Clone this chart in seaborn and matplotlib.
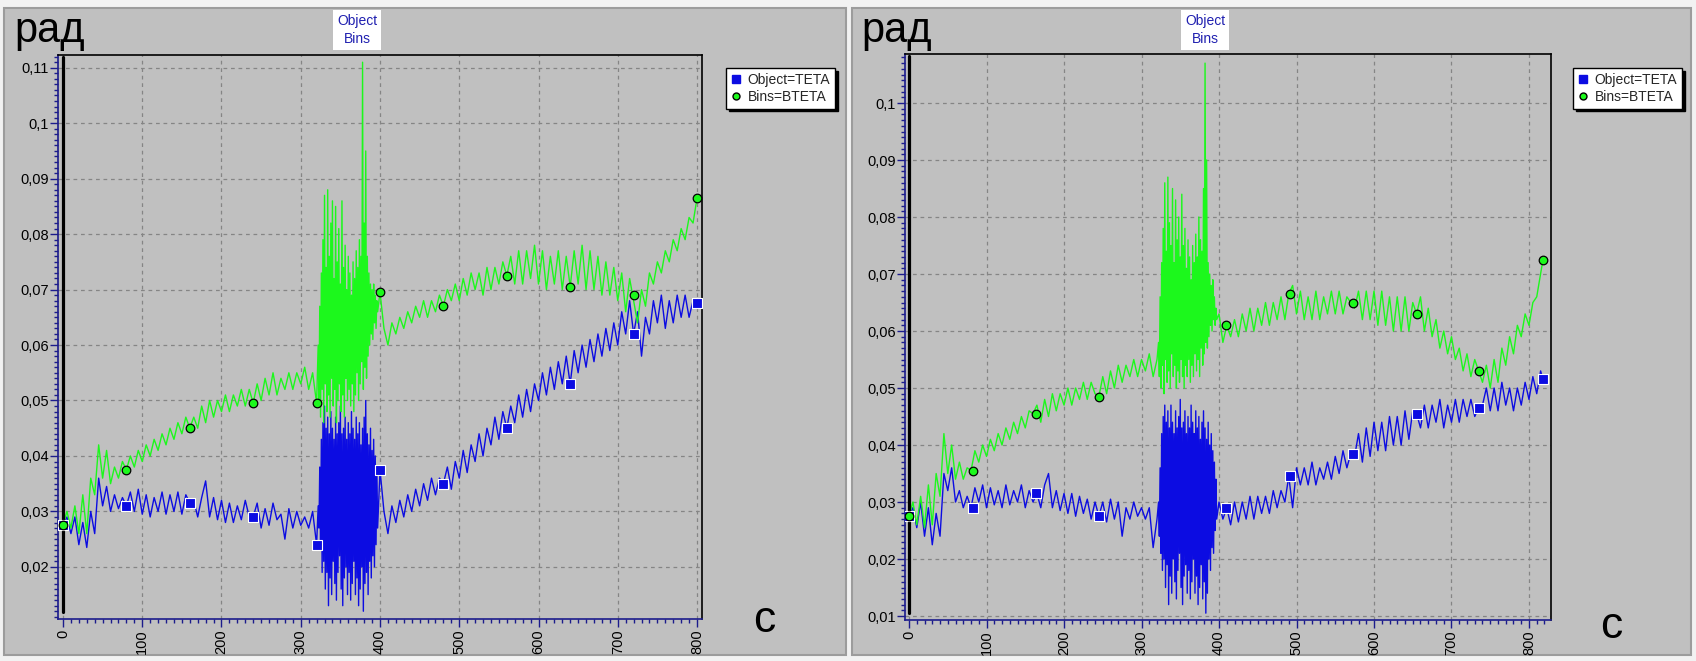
import numpy as np
import pandas as pd
import matplotlib
matplotlib.use("Agg")
import matplotlib.pyplot as plt
import seaborn as sns
from matplotlib.patches import Rectangle
from matplotlib.lines import Line2D
from matplotlib.ticker import MultipleLocator, FuncFormatter

# ---------------- data ----------------
series_names = ["Object=TETA", "Bins=BTETA"]
title_text = "Object\nBins"
y_unit = "рад"
x_unit = "с"
x_ticks = [0, 100, 200, 300, 400, 500, 600, 700, 800]
y_ticks_left = [0.02, 0.03, 0.04, 0.05, 0.06, 0.07, 0.08, 0.09, 0.10, 0.11]
y_ticks_right = [0.01, 0.02, 0.03, 0.04, 0.05, 0.06, 0.07, 0.08, 0.09, 0.10]

t_main = np.arange(0, 325, 5)          # 0..320
t_burst = np.arange(322, 398)          # 322..397
t_tail_left = np.arange(400, 805, 5)   # 400..800
t_tail_right = np.append(np.arange(400, 816, 5), 818)

# ---- left chart ----
obj_main_left = [
    0.0275, 0.029, 0.026, 0.029, 0.024, 0.028, 0.0235, 0.030, 0.026, 0.036,
    0.031, 0.0345, 0.030, 0.033, 0.0305, 0.0325, 0.031, 0.0335, 0.030, 0.034,
    0.0295, 0.033, 0.029, 0.0325, 0.030, 0.0335, 0.0295, 0.033, 0.030, 0.0335,
    0.0295, 0.033, 0.0315, 0.032, 0.029, 0.0325, 0.0355, 0.029, 0.0325, 0.0285,
    0.032, 0.028, 0.0315, 0.028, 0.031, 0.0285, 0.032, 0.029, 0.029, 0.0315,
    0.027, 0.0305, 0.0275, 0.0315, 0.0285, 0.0295, 0.025, 0.0305, 0.027, 0.030,
    0.0275, 0.029, 0.027, 0.030, 0.024]
obj_burst_left = [
    0.031, 0.027, 0.038, 0.023, 0.043, 0.019, 0.046, 0.021, 0.049, 0.016,
    0.045, 0.019, 0.047, 0.013, 0.044, 0.018, 0.048, 0.015, 0.045, 0.021,
    0.043, 0.017, 0.047, 0.014, 0.044, 0.019, 0.046, 0.022, 0.049, 0.016,
    0.044, 0.013, 0.045, 0.018, 0.047, 0.020, 0.043, 0.015, 0.046, 0.019,
    0.044, 0.014, 0.048, 0.017, 0.045, 0.021, 0.043, 0.015, 0.047, 0.018,
    0.044, 0.013, 0.046, 0.016, 0.042, 0.020, 0.045, 0.012, 0.047, 0.017,
    0.050, 0.019, 0.044, 0.015, 0.042, 0.021, 0.045, 0.018, 0.041, 0.022,
    0.043, 0.020, 0.040, 0.024, 0.038, 0.027]
obj_tail_left = [
    0.0375, 0.030, 0.026, 0.031, 0.028, 0.032, 0.029, 0.033, 0.030, 0.034,
    0.031, 0.035, 0.032, 0.036, 0.033, 0.036, 0.035, 0.038, 0.034, 0.039,
    0.036, 0.041, 0.037, 0.042, 0.039, 0.044, 0.040, 0.045, 0.042, 0.047,
    0.043, 0.048, 0.045, 0.049, 0.046, 0.051, 0.047, 0.052, 0.048, 0.053,
    0.050, 0.055, 0.051, 0.056, 0.052, 0.057, 0.053, 0.058, 0.053, 0.059,
    0.055, 0.060, 0.056, 0.061, 0.057, 0.062, 0.058, 0.063, 0.059, 0.064,
    0.060, 0.066, 0.062, 0.068, 0.062, 0.066, 0.058, 0.065, 0.062, 0.068,
    0.064, 0.069, 0.063, 0.068, 0.064, 0.069, 0.065, 0.069, 0.065, 0.068,
    0.0675]
bins_main_left = [
    0.0275, 0.030, 0.027, 0.031, 0.026, 0.033, 0.026, 0.036, 0.033, 0.042,
    0.036, 0.041, 0.035, 0.038, 0.036, 0.039, 0.0375, 0.040, 0.038, 0.041,
    0.039, 0.042, 0.040, 0.043, 0.041, 0.044, 0.042, 0.045, 0.043, 0.046,
    0.044, 0.047, 0.045, 0.047, 0.045, 0.049, 0.046, 0.050, 0.047, 0.050,
    0.048, 0.051, 0.048, 0.051, 0.049, 0.052, 0.049, 0.052, 0.0495, 0.053,
    0.050, 0.054, 0.051, 0.055, 0.051, 0.054, 0.052, 0.055, 0.052, 0.055,
    0.053, 0.056, 0.052, 0.055, 0.0495]
bins_burst_left = [
    0.060, 0.050, 0.067, 0.047, 0.073, 0.052, 0.079, 0.046, 0.087, 0.053,
    0.074, 0.048, 0.088, 0.051, 0.076, 0.047, 0.082, 0.054, 0.086, 0.049,
    0.072, 0.052, 0.085, 0.046, 0.075, 0.050, 0.081, 0.053, 0.071, 0.048,
    0.086, 0.051, 0.074, 0.047, 0.078, 0.054, 0.070, 0.050, 0.076, 0.052,
    0.073, 0.049, 0.069, 0.053, 0.075, 0.048, 0.072, 0.051, 0.077, 0.055,
    0.074, 0.050, 0.079, 0.053, 0.076, 0.057, 0.111, 0.052, 0.082, 0.056,
    0.095, 0.054, 0.076, 0.058, 0.073, 0.060, 0.071, 0.062, 0.070, 0.061,
    0.071, 0.064, 0.069, 0.063, 0.068, 0.066]
bins_tail_left = [
    0.0695, 0.063, 0.060, 0.064, 0.062, 0.065, 0.063, 0.066, 0.064, 0.067,
    0.065, 0.068, 0.065, 0.068, 0.066, 0.069, 0.067, 0.070, 0.068, 0.071,
    0.068, 0.072, 0.069, 0.073, 0.070, 0.073, 0.069, 0.074, 0.070, 0.074,
    0.071, 0.075, 0.0725, 0.076, 0.071, 0.077, 0.071, 0.077, 0.072, 0.078,
    0.071, 0.077, 0.070, 0.076, 0.071, 0.077, 0.070, 0.076, 0.0705, 0.077,
    0.071, 0.078, 0.070, 0.077, 0.070, 0.076, 0.069, 0.075, 0.069, 0.074,
    0.068, 0.073, 0.066, 0.072, 0.068, 0.064, 0.070, 0.067, 0.073, 0.071,
    0.075, 0.073, 0.077, 0.075, 0.079, 0.077, 0.081, 0.079, 0.083, 0.082,
    0.0865]
mark_t_left = [0, 80, 160, 240, 320, 400, 480, 560, 640, 720, 800]
obj_marks_left = [0.0275, 0.031, 0.0315, 0.029, 0.024, 0.0375, 0.035, 0.045, 0.053, 0.062, 0.0675]
bins_marks_left = [0.0275, 0.0375, 0.045, 0.0495, 0.0495, 0.0695, 0.067, 0.0725, 0.0705, 0.069, 0.0865]

# ---- right chart ----
obj_main_right = [
    0.0275, 0.029, 0.0255, 0.030, 0.024, 0.029, 0.0225, 0.028, 0.024, 0.035,
    0.032, 0.036, 0.030, 0.032, 0.029, 0.031, 0.029, 0.0325, 0.030, 0.033,
    0.029, 0.0325, 0.0295, 0.032, 0.029, 0.033, 0.0295, 0.032, 0.030, 0.033,
    0.029, 0.032, 0.030, 0.0315, 0.029, 0.033, 0.035, 0.029, 0.032, 0.0285,
    0.0315, 0.028, 0.0315, 0.0275, 0.031, 0.028, 0.0305, 0.027, 0.030, 0.0275,
    0.030, 0.0265, 0.0305, 0.027, 0.030, 0.024, 0.029, 0.027, 0.030, 0.0275,
    0.029, 0.027, 0.029, 0.022, 0.027]
obj_burst_right = [
    0.030, 0.024, 0.036, 0.021, 0.042, 0.018, 0.045, 0.020, 0.047, 0.015,
    0.044, 0.019, 0.046, 0.012, 0.043, 0.017, 0.047, 0.014, 0.044, 0.020,
    0.042, 0.016, 0.046, 0.013, 0.043, 0.018, 0.045, 0.021, 0.048, 0.015,
    0.043, 0.012, 0.044, 0.017, 0.046, 0.019, 0.042, 0.014, 0.045, 0.018,
    0.043, 0.013, 0.047, 0.016, 0.044, 0.020, 0.042, 0.014, 0.046, 0.017,
    0.043, 0.012, 0.045, 0.015, 0.041, 0.019, 0.044, 0.013, 0.046, 0.016,
    0.043, 0.0105, 0.041, 0.014, 0.044, 0.020, 0.040, 0.018, 0.042, 0.022,
    0.039, 0.021, 0.037, 0.025, 0.034, 0.027]
obj_tail_right = [
    0.030, 0.027, 0.029, 0.026, 0.030, 0.0265, 0.030, 0.027, 0.031, 0.027,
    0.031, 0.028, 0.031, 0.028, 0.032, 0.029, 0.032, 0.030, 0.0345, 0.029,
    0.036, 0.033, 0.036, 0.033, 0.037, 0.033, 0.036, 0.034, 0.037, 0.034,
    0.038, 0.035, 0.039, 0.036, 0.0385, 0.038, 0.042, 0.037, 0.043, 0.038,
    0.044, 0.039, 0.044, 0.039, 0.045, 0.040, 0.045, 0.040, 0.046, 0.041,
    0.046, 0.0455, 0.043, 0.047, 0.043, 0.047, 0.044, 0.048, 0.043, 0.047,
    0.044, 0.048, 0.044, 0.048, 0.045, 0.048, 0.045, 0.0465, 0.047, 0.050,
    0.046, 0.050, 0.046, 0.051, 0.047, 0.050, 0.046, 0.050, 0.047, 0.051,
    0.048, 0.052, 0.049, 0.053, 0.0515]
bins_main_right = [
    0.0275, 0.030, 0.026, 0.031, 0.0255, 0.033, 0.026, 0.035, 0.031, 0.042,
    0.035, 0.040, 0.034, 0.037, 0.034, 0.036, 0.0355, 0.039, 0.037, 0.040,
    0.038, 0.041, 0.039, 0.042, 0.040, 0.043, 0.041, 0.044, 0.042, 0.045,
    0.043, 0.046, 0.0455, 0.047, 0.044, 0.048, 0.045, 0.049, 0.046, 0.049,
    0.047, 0.050, 0.047, 0.050, 0.048, 0.051, 0.048, 0.051, 0.049, 0.0485,
    0.052, 0.049, 0.053, 0.050, 0.054, 0.051, 0.054, 0.052, 0.055, 0.052,
    0.055, 0.053, 0.056, 0.052, 0.055]
bins_burst_right = [
    0.058, 0.052, 0.066, 0.050, 0.072, 0.054, 0.078, 0.049, 0.086, 0.055,
    0.074, 0.051, 0.087, 0.053, 0.079, 0.050, 0.075, 0.056, 0.085, 0.052,
    0.072, 0.054, 0.083, 0.050, 0.076, 0.053, 0.080, 0.051, 0.073, 0.055,
    0.084, 0.052, 0.075, 0.050, 0.078, 0.054, 0.071, 0.052, 0.076, 0.055,
    0.073, 0.051, 0.069, 0.054, 0.075, 0.052, 0.072, 0.056, 0.077, 0.053,
    0.073, 0.055, 0.080, 0.052, 0.076, 0.057, 0.074, 0.054, 0.085, 0.056,
    0.107, 0.058, 0.090, 0.057, 0.072, 0.059, 0.070, 0.061, 0.068, 0.060,
    0.069, 0.062, 0.066, 0.061, 0.064, 0.062]
bins_tail_right = [
    0.063, 0.058, 0.061, 0.059, 0.062, 0.059, 0.063, 0.060, 0.064, 0.060,
    0.064, 0.061, 0.065, 0.061, 0.065, 0.062, 0.066, 0.062, 0.0665, 0.068,
    0.063, 0.067, 0.062, 0.066, 0.062, 0.067, 0.062, 0.066, 0.063, 0.067,
    0.063, 0.067, 0.063, 0.066, 0.065, 0.064, 0.067, 0.062, 0.067, 0.062,
    0.067, 0.061, 0.067, 0.061, 0.066, 0.060, 0.066, 0.060, 0.066, 0.060,
    0.065, 0.063, 0.066, 0.060, 0.064, 0.059, 0.062, 0.057, 0.060, 0.056,
    0.059, 0.055, 0.057, 0.053, 0.056, 0.052, 0.055, 0.053, 0.051, 0.054,
    0.050, 0.055, 0.051, 0.057, 0.054, 0.059, 0.056, 0.061, 0.059, 0.063,
    0.061, 0.065, 0.066, 0.070, 0.0725]
mark_t_right = [0, 82, 164, 245, 409, 491, 573, 655, 736, 818]
obj_marks_right = [0.0275, 0.029, 0.0315, 0.0275, 0.029, 0.0345, 0.0385, 0.0455, 0.0465, 0.0515]
bins_marks_right = [0.0275, 0.0355, 0.0455, 0.0485, 0.061, 0.0665, 0.065, 0.063, 0.053, 0.0725]

# ---------------- styling ----------------
sns.set_style("white")
plt.rcParams['font.family'] = ['Liberation Sans', 'DejaVu Sans']

BLUE = '#0c0ce2'
GREEN = '#1cf81c'
NAVY = '#1c1c8c'
PANEL = '#c0c0c0'

W, H = 1696, 661
fig = plt.figure(figsize=(W / 100, H / 100), dpi=100, facecolor='#f2f2f2')


def fx(px):
    return px / W


def fy(py):
    return 1 - py / H


for (x0, x1) in [(4, 846), (852, 1691)]:
    r = Rectangle((fx(x0), fy(655)), (x1 - x0) / W, (655 - 8) / H,
                  transform=fig.transFigure, facecolor=PANEL,
                  edgecolor='#9c9c9c', lw=1.5, zorder=-10)
    fig.add_artist(r)

panels = [
    dict(rect=(58, 55, 702, 619), xlim=(-6.3, 806.3), ylim=(0.0106, 0.1123),
         yticks=y_ticks_left, t_tail=t_tail_left,
         obj=(obj_main_left, obj_burst_left, obj_tail_left),
         bins=(bins_main_left, bins_burst_left, bins_tail_left),
         mt=mark_t_left, om=obj_marks_left, bm=bins_marks_left,
         title=(357, 30), legend=(726, 68), ylab=(14, 42), xlab=(764, 620)),
    dict(rect=(905, 54, 1551, 620), xlim=(-5.2, 828.4), ylim=(0.0093, 0.1086),
         yticks=y_ticks_right, t_tail=t_tail_right,
         obj=(obj_main_right, obj_burst_right, obj_tail_right),
         bins=(bins_main_right, bins_burst_right, bins_tail_right),
         mt=mark_t_right, om=obj_marks_right, bm=bins_marks_right,
         title=(1205, 30), legend=(1573, 68), ylab=(861, 42), xlab=(1611, 627)),
]

fmt = FuncFormatter(lambda v, p: (f"{v:.2f}".rstrip('0').rstrip('.')).replace('.', ','))

for p in panels:
    x0, y0, x1, y1 = p['rect']
    ax = fig.add_axes([fx(x0), fy(y1), (x1 - x0) / W, (y1 - y0) / H])
    ax.set_facecolor(PANEL)

    t_all = np.concatenate([t_main, t_burst, p['t_tail']])
    frames = []
    for name, parts in zip(series_names, (p['obj'], p['bins'])):
        v = np.concatenate([np.asarray(parts[0]), np.asarray(parts[1]), np.asarray(parts[2])])
        frames.append(pd.DataFrame({'t': t_all, 'v': v, 'series': name}))
    df = pd.concat(frames, ignore_index=True)

    sns.lineplot(data=df, x='t', y='v', hue='series', hue_order=series_names,
                 palette={series_names[0]: BLUE, series_names[1]: GREEN},
                 estimator=None, sort=False, lw=1.0, legend=False, ax=ax, zorder=2)

    # zero reference line
    ax.axvline(0, ymin=0.012, ymax=0.996, color='black', lw=2.3, zorder=2.5)

    sns.scatterplot(x=p['mt'], y=p['om'], marker='s', s=50, color=BLUE,
                    edgecolor='white', linewidth=0.8, ax=ax, zorder=4, legend=False)
    sns.scatterplot(x=p['mt'], y=p['bm'], marker='o', s=38, color=GREEN,
                    edgecolor='black', linewidth=0.9, ax=ax, zorder=4, legend=False)

    ax.set_xlim(*p['xlim'])
    ax.set_ylim(*p['ylim'])
    ax.set_xticks(x_ticks)
    ax.set_yticks(p['yticks'])
    ax.xaxis.set_minor_locator(MultipleLocator(10))
    ax.yaxis.set_minor_locator(MultipleLocator(0.001))
    ax.yaxis.set_major_formatter(fmt)
    ax.set_xlabel('')
    ax.set_ylabel('')

    ax.grid(True, which='major', color='#858585', linestyle=(0, (3, 3)), lw=0.9)
    ax.set_axisbelow(True)

    ax.tick_params(which='both', direction='out', color=NAVY, labelsize=10.5,
                   labelcolor='black', width=1, left=True, bottom=True)
    ax.tick_params(which='major', length=5.5)
    ax.tick_params(which='minor', length=3)
    ax.tick_params(axis='x', labelrotation=90, pad=2)
    ax.tick_params(axis='y', pad=1)

    for side in ['top', 'right']:
        ax.spines[side].set_color('black')
        ax.spines[side].set_linewidth(1.2)
    for side in ['left', 'bottom']:
        ax.spines[side].set_color(NAVY)
        ax.spines[side].set_linewidth(1.2)

    handles = [Line2D([], [], marker='s', ls='', color=BLUE, markersize=5.5),
               Line2D([], [], marker='o', ls='', markerfacecolor=GREEN,
                      markeredgecolor='black', markersize=5)]
    leg = ax.legend(handles, series_names, loc='upper left',
                    bbox_to_anchor=(fx(p['legend'][0]), fy(p['legend'][1])),
                    bbox_transform=fig.transFigure, borderaxespad=0,
                    frameon=True, fancybox=False, shadow={'color': 'black', 'alpha': 1},
                    prop={'size': 10}, handlelength=0.8, handletextpad=0.4,
                    borderpad=0.35, labelspacing=0.2)
    leg.get_frame().set_edgecolor('black')
    leg.get_frame().set_facecolor('white')
    leg.get_frame().set_linewidth(1.0)
    leg.get_frame().set_alpha(1)

    fig.text(fx(p['title'][0]), fy(p['title'][1]), title_text, ha='center', va='center',
             fontsize=10, color='#2020b0', linespacing=1.3,
             bbox=dict(boxstyle='square,pad=0.3', facecolor='white', edgecolor='none'))
    fig.text(fx(p['ylab'][0]), fy(p['ylab'][1]), y_unit, ha='left', va='baseline',
             fontsize=30, color='black')
    fig.text(fx(p['xlab'][0]), fy(p['xlab'][1]), x_unit, ha='center', va='center',
             fontsize=32, color='black')

fig.savefig('out.png', dpi=100, facecolor=fig.get_facecolor())
